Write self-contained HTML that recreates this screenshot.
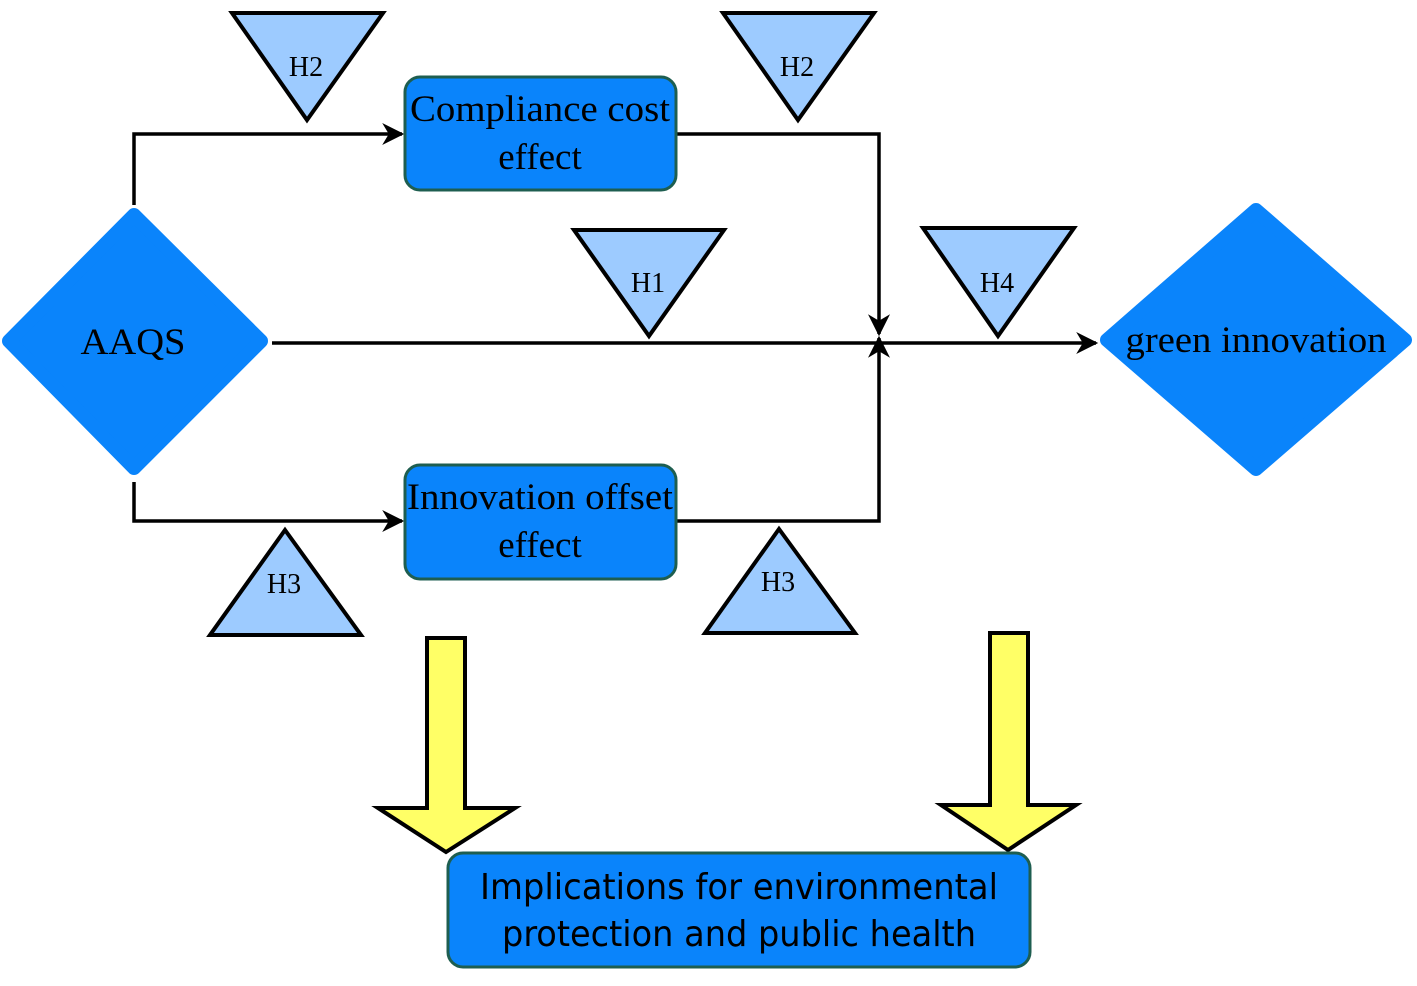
<!DOCTYPE html>
<html><head><style>html,body{margin:0;padding:0;background:#fff}svg{display:block}</style></head>
<body>
<svg width="1417" height="986" viewBox="0 0 1417 986" xmlns="http://www.w3.org/2000/svg">
<defs>
<marker id="a" viewBox="0 0 20 20" refX="18" refY="10" markerWidth="24" markerHeight="22" markerUnits="userSpaceOnUse" orient="auto">
<path d="M0,0 L20,10 L0,20 L6,10 Z" fill="#000"/></marker>
</defs>
<path d="M427,638 H465 V808 H515 L446,852 L378,808 H427 Z" fill="#ffff66" stroke="#000" stroke-width="4"/>
<path d="M990,633 H1028 V805 H1076 L1008,850 L941,805 H990 Z" fill="#ffff66" stroke="#000" stroke-width="4"/>
<g fill="none" stroke="#000" stroke-width="3.5">
<path d="M134,205 V134 H402" marker-end="url(#a)"/>
<path d="M676,134 H879 V334" marker-end="url(#a)"/>
<path d="M272,343 H1096" marker-end="url(#a)"/>
<path d="M134,482 V521 H402" marker-end="url(#a)"/>
<path d="M676,521 H879 V338" marker-end="url(#a)"/>
</g>
<g fill="#0a84fb" stroke="#0a84fb" stroke-width="14" stroke-linejoin="round">
<polygon points="134,215 261,341 134,468 9,341"/>
<polygon points="1256,210 1405,340 1256,469 1107,340"/>
</g>
<g fill="#0a84fb" stroke="#1e5e50" stroke-width="3">
<rect x="405" y="77" width="271" height="113" rx="15"/>
<rect x="405" y="465" width="271" height="114" rx="15"/>
<rect x="448" y="853" width="582" height="114" rx="15"/>
</g>
<g fill="#9dcbff" stroke="#000" stroke-width="4" stroke-linejoin="miter">
<polygon points="232,13 383,13 307,120"/>
<polygon points="723,13 874,13 798,120"/>
<polygon points="574,230 724,230 649,336"/>
<polygon points="923,228 1074,228 998,336"/>
<polygon points="210,635 361,635 285,530"/>
<polygon points="705,633 855,633 779,529"/>
</g>
<g font-family="Liberation Serif, serif" fill="#000" text-anchor="middle">
<text x="306" y="76" font-size="28">H2</text>
<text x="797" y="76" font-size="28">H2</text>
<text x="648" y="292" font-size="28">H1</text>
<text x="997" y="292" font-size="28">H4</text>
<text x="284" y="593" font-size="28">H3</text>
<text x="778" y="591" font-size="28">H3</text>
<text x="540" y="121" font-size="37" textLength="260" lengthAdjust="spacingAndGlyphs">Compliance cost</text>
<text x="540" y="169" font-size="37">effect</text>
<text x="540" y="509" font-size="37" textLength="266" lengthAdjust="spacingAndGlyphs">Innovation offset</text>
<text x="540" y="557" font-size="37">effect</text>
<text x="133" y="354" font-size="37" textLength="105" lengthAdjust="spacingAndGlyphs">AAQS</text>
<text x="1256" y="352" font-size="37" textLength="261" lengthAdjust="spacingAndGlyphs">green innovation</text>
</g>
<g font-family="DejaVu Sans Condensed, DejaVu Sans, sans-serif" fill="#000" text-anchor="middle" font-size="36">
<text x="739" y="899" textLength="518" lengthAdjust="spacingAndGlyphs">Implications for environmental</text>
<text x="739" y="946" textLength="474" lengthAdjust="spacingAndGlyphs">protection and public health</text>
</g>
</svg>
</body></html>
